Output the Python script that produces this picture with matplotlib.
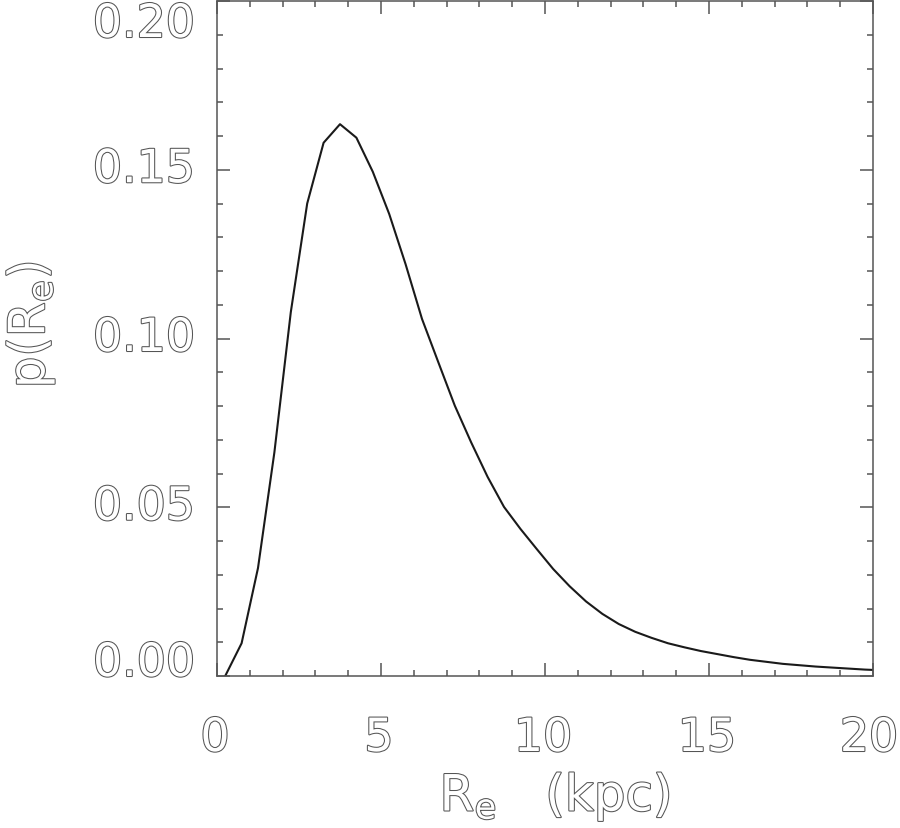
import numpy as np
import matplotlib
matplotlib.use("Agg")
import matplotlib.pyplot as plt
import matplotlib.patheffects as pe
import matplotlib.transforms as mtransforms
from matplotlib.ticker import MultipleLocator, NullFormatter

# Data
re_kpc = [0.25, 0.75, 1.25, 1.75, 2.25, 2.75, 3.25, 3.75, 4.25, 4.75,
          5.25, 5.75, 6.25, 6.75, 7.25, 7.75, 8.25, 8.75, 9.25, 9.75,
          10.25, 10.75, 11.25, 11.75, 12.25, 12.75, 13.25, 13.75, 14.25, 14.75,
          15.25, 15.75, 16.25, 16.75, 17.25, 17.75, 18.25, 18.75, 19.25, 19.75,
          20.25]
p_re = [0.0000, 0.0097, 0.0320, 0.0663, 0.1078, 0.1400, 0.1580, 0.1635, 0.1595, 0.1494,
        0.1369, 0.1220, 0.1058, 0.0929, 0.0801, 0.0692, 0.0590, 0.0501, 0.0436, 0.0376,
        0.0317, 0.0266, 0.0221, 0.0184, 0.0154, 0.0131, 0.0113, 0.0097, 0.0085, 0.0074,
        0.0065, 0.0056, 0.0048, 0.0042, 0.0036, 0.0032, 0.0028, 0.0025, 0.0022, 0.0019,
        0.0017]

x_ticks = [0, 5, 10, 15, 20]
x_tick_labels = ['0', '5', '10', '15', '20']
y_ticks = [0.00, 0.05, 0.10, 0.15, 0.20]
y_tick_labels = ['0.00', '0.05', '0.10', '0.15', '0.20']

axcol = '#555555'
txt_fx = [pe.Stroke(linewidth=1.5, foreground='#555555'), pe.Normal()]

fig = plt.figure(figsize=(9, 8.29), dpi=100)
ax = fig.add_axes([217/900, 1-677/829, (873-217)/900, (677-2)/829])

ax.plot(re_kpc, p_re, color='#1a1a1a', lw=1.5, clip_on=True)
ax.set_xlim(0, 20)
ax.set_ylim(0, 0.20)

ax.set_xticks(x_ticks)
ax.set_yticks(y_ticks)
ax.xaxis.set_minor_locator(MultipleLocator(1))
ax.yaxis.set_minor_locator(MultipleLocator(0.01))
ax.xaxis.set_major_formatter(NullFormatter())
ax.yaxis.set_major_formatter(NullFormatter())

for s in ax.spines.values():
    s.set_color(axcol)
    s.set_linewidth(1.1)

ax.tick_params(which='both', direction='in', top=True, right=True,
               color=axcol, width=1.1)
ax.tick_params(which='major', length=9.5)
ax.tick_params(which='minor', length=4.5)

def shift(dx_px, dy_px):
    return mtransforms.ScaledTranslation(dx_px/100, dy_px/100, fig.dpi_scale_trans)

# x tick labels (last one nudged left to stay on the page, as in the reference)
xtrans = ax.get_xaxis_transform()
for i, (v, s) in enumerate(zip(x_ticks, x_tick_labels)):
    dx = -4 if i == len(x_ticks) - 1 else -2
    ax.text(v, 0, s, transform=xtrans + shift(dx, -40), ha='center', va='top',
            fontsize=33, color='white', path_effects=txt_fx, clip_on=False)

# y tick labels, end labels kept inside the frame
ytrans = ax.get_yaxis_transform() + shift(-22, 0)
for i, (v, s) in enumerate(zip(y_ticks, y_tick_labels)):
    if i == 0:
        va, tr = 'baseline', ytrans
    elif i == len(y_ticks) - 1:
        va, tr = 'top', ytrans + shift(0, -1)
    else:
        va, tr = 'center', ytrans
    ax.text(0, v, s, transform=tr, ha='right', va=va, fontsize=33,
            color='white', path_effects=txt_fx, clip_on=False)

ax.set_xlabel(r'R$_\mathregular{e}$   (kpc)', fontsize=36, color='white',
              path_effects=txt_fx)
ax.xaxis.set_label_coords(0.515, -0.140)
ax.set_ylabel(r'p(R$_\mathregular{e}$)', fontsize=36, color='white',
              path_effects=txt_fx)
ax.yaxis.set_label_coords(-0.245, 0.52)

fig.savefig('out.png', dpi=100, facecolor='white')
